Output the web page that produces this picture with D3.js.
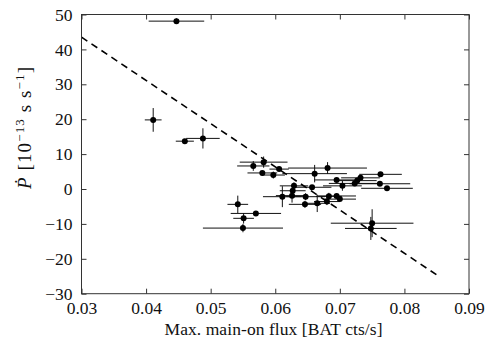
<!DOCTYPE html>
<html>
<head>
<meta charset="utf-8">
<script src="https://cdn.jsdelivr.net/npm/d3@7"></script>
<style>
  html, body { margin: 0; padding: 0; background: #fff; }
  svg { display: block; }
</style>
</head>
<body>
<svg id="chart" width="500" height="350"></svg>
<script>
// ---- data ----
const fluxX = [0.0447, 0.0411, 0.0460, 0.0488, 0.0566, 0.0582, 0.0580, 0.0597, 0.0606, 0.0661,
               0.0681, 0.0629, 0.0627, 0.0657, 0.0611, 0.0626, 0.0647, 0.0646, 0.0665, 0.0680,
               0.0683, 0.0695, 0.0700, 0.0695, 0.0704, 0.0723, 0.0727, 0.0732, 0.0763, 0.0762,
               0.0773, 0.0750, 0.0748, 0.0542, 0.0570, 0.0551, 0.0550];
const pdotY = [48.1, 19.8, 13.7, 14.5, 6.6, 7.7, 4.6, 4.0, 5.7, 4.4,
               6.0, 0.9, -0.5, 0.5, -2.2, -1.9, -2.2, -4.4, -4.1, -3.6,
               -2.1, -2.0, -2.9, 2.6, 0.9, 1.6, 2.4, 3.2, 4.2, 1.5,
               0.2, -9.8, -11.3, -4.4, -7.0, -8.4, -11.2];
const fluxErr = [0.0043, 0.0013, 0.0014, 0.0026, 0.0025, 0.0037, 0.0023, 0.0018, 0.0015, 0.0050,
                 0.0061, 0.0022, 0.0020, 0.0030, 0.0030, 0.0025, 0.0030, 0.0025, 0.0020, 0.0020,
                 0.0020, 0.0030, 0.0025, 0.0035, 0.0030, 0.0040, 0.0030, 0.0030, 0.0033, 0.0047,
                 0.0040, 0.0064, 0.0040, 0.0016, 0.0039, 0.0016, 0.0062];
const pdotErr = [0.8, 3.4, 0.5, 2.9, 1.4, 1.6, 0.6, 1.0, 0.5, 2.5,
                 1.7, 1.0, 1.0, 0.5, 3.0, 2.0, 1.0, 1.0, 2.5, 1.0,
                 1.0, 0.5, 0.5, 0.5, 1.4, 0.5, 0.5, 0.5, 0.5, 0.5,
                 0.5, 4.0, 3.3, 2.5, 0.5, 1.5, 1.2];
const fitX = [0.03, 0.085];
const fitY = [43.5, -24.6];
const xTicks = [0.03, 0.04, 0.05, 0.06, 0.07, 0.08, 0.09];
const yTicks = [-30, -20, -10, 0, 10, 20, 30, 40, 50];

// ---- layout ----
const FONT = "'Liberation Serif', 'Times New Roman', 'DejaVu Serif', serif";
const svg = d3.select("#chart");
const x = d3.scaleLinear().domain([0.03, 0.09]).range([81.5, 469]);
const y = d3.scaleLinear().domain([-30, 50]).range([293.7, 14.5]);
const frame = "#333";

const g = svg.append("g");

// error bars
const pts = fluxX.map((v, i) => ({x: v, y: pdotY[i], ex: fluxErr[i], ey: pdotErr[i]}));
const eb = g.append("g").attr("stroke", "#111").attr("stroke-width", 1);
eb.selectAll("line.h").data(pts).join("line").attr("class", "h")
  .attr("x1", d => x(d.x - d.ex)).attr("x2", d => x(d.x + d.ex))
  .attr("y1", d => y(d.y)).attr("y2", d => y(d.y));
eb.selectAll("line.v").data(pts).join("line").attr("class", "v")
  .attr("x1", d => x(d.x)).attr("x2", d => x(d.x))
  .attr("y1", d => y(d.y - d.ey)).attr("y2", d => y(d.y + d.ey));

// points
g.append("g").selectAll("circle").data(pts).join("circle")
  .attr("cx", d => x(d.x)).attr("cy", d => y(d.y)).attr("r", 3).attr("fill", "#000");

// dashed fit line
g.append("path")
  .datum(fitX.map((v, i) => [v, fitY[i]]))
  .attr("d", d3.line().x(d => x(d[0])).y(d => y(d[1])))
  .attr("fill", "none").attr("stroke", "#000").attr("stroke-width", 1.6)
  .attr("stroke-dasharray", "7,5");

// axes (ticks inward on all four sides)
const tickLen = 5;
const axB = d3.axisBottom(x).tickValues(xTicks).tickSize(-tickLen).tickPadding(8).tickFormat(d3.format(".2f"));
const axT = d3.axisTop(x).tickValues(xTicks).tickSize(-tickLen).tickFormat("");
const axL = d3.axisLeft(y).tickValues(yTicks).tickSize(-tickLen).tickPadding(9).tickFormat(d => d < 0 ? "\u2212" + Math.abs(d) : d);
const axR = d3.axisRight(y).tickValues(yTicks).tickSize(-tickLen).tickFormat("");

function style(sel) {
  sel.select(".domain").remove();
  sel.attr("font-family", null).attr("font-size", null);
  sel.selectAll("line").attr("stroke", frame);
  sel.selectAll("text").style("font-family", FONT).style("font-size", "17.5px").attr("fill", "#111");
}
svg.append("g").attr("transform", `translate(0,${y(-30)})`).call(axB).call(style);
svg.append("g").attr("transform", `translate(0,${y(50)})`).call(axT).call(style);
svg.append("g").attr("transform", `translate(${x(0.03)},0)`).call(axL).call(style);
svg.append("g").attr("transform", `translate(${x(0.09)},0)`).call(axR).call(style);

// frame
svg.append("rect")
  .attr("x", x(0.03)).attr("y", y(50))
  .attr("width", x(0.09) - x(0.03)).attr("height", y(-30) - y(50))
  .attr("fill", "none").attr("stroke", frame).attr("stroke-width", 1);

// axis labels
svg.append("text")
  .attr("x", 273.5).attr("y", 335)
  .attr("text-anchor", "middle")
  .attr("textLength", 218).attr("lengthAdjust", "spacing")
  .style("font-family", FONT).style("font-size", "17.5px").attr("fill", "#111")
  .text("Max. main-on flux [BAT cts/s]");

const yl = svg.append("text")
  .attr("transform", `translate(31,128) rotate(-90)`)
  .attr("text-anchor", "middle")
  .attr("textLength", 122).attr("lengthAdjust", "spacing")
  .style("font-family", FONT).style("font-size", "19px").attr("fill", "#111");
yl.append("tspan").attr("font-style", "italic").text("\u1E56");
yl.append("tspan").text(" [10");
yl.append("tspan").attr("dy", -7).style("font-size", "13px").text("\u221213");
yl.append("tspan").attr("dy", 7).text(" s s");
yl.append("tspan").attr("dy", -7).style("font-size", "13px").text("\u22121");
yl.append("tspan").attr("dy", 7).text("]");
</script>
</body>
</html>
